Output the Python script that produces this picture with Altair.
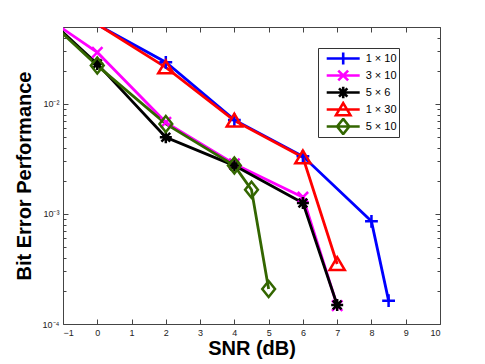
import altair as alt
import pandas as pd

# ---- data ----
series_names = ["1 × 10", "3 × 10", "5 × 6", "1 × 30", "5 × 10"]
colors = ["#0000ff", "#ff00ff", "#000000", "#ff0000", "#336600"]

snr_1x10 = [-1, 2, 4, 6, 8, 8.5]
ber_1x10 = [0.078, 0.0239, 0.00716, 0.00334, 0.000857, 0.000163]

snr_3x10 = [-2, 0, 2, 4, 6, 7]
ber_3x10 = [0.0785, 0.0294, 0.0068, 0.00285, 0.00142, 0.000147]

snr_5x6 = [-2, 0, 2, 4, 6, 7]
ber_5x6 = [0.0867, 0.0231, 0.00497, 0.00275, 0.00126, 0.000149]

snr_1x30 = [-1, 2, 4, 6, 7]
ber_1x30 = [0.083, 0.0215, 0.00705, 0.00327, 0.000351]

snr_5x10 = [-2, 0, 2, 4, 4.5, 5]
ber_5x10 = [0.084, 0.0223, 0.00658, 0.00275, 0.00166, 0.000208]

x_ticks = [-1, 0, 1, 2, 3, 4, 5, 6, 7, 8, 9, 10]
y_major = [1e-4, 1e-3, 1e-2]
y_minor = [m * 10.0 ** e for e in (-4, -3, -2) for m in range(2, 10) if m * 10.0 ** e <= 0.05]

rows = []
for name, xs, ys in [
    (series_names[0], snr_1x10, ber_1x10),
    (series_names[1], snr_3x10, ber_3x10),
    (series_names[2], snr_5x6, ber_5x6),
    (series_names[3], snr_1x30, ber_1x30),
    (series_names[4], snr_5x10, ber_5x10),
]:
    for x, y in zip(xs, ys):
        rows.append({"series": name, "snr": x, "ber": y})
df = pd.DataFrame(rows)


# ---- marker shapes (unit box) ----
def build_path(polys, scale=1.0, line_half=None):
    parts = []
    if line_half is not None:
        parts.append(f"M{-line_half:.3f},0L{line_half:.3f},0")
    for pts, closed in polys:
        s = "M" + "L".join(f"{px*scale:.3f},{py*scale:.3f}" for px, py in pts)
        if closed:
            s += "Z"
        parts.append(s)
    return "".join(parts)


plus = [([(-0.8, 0), (0.8, 0)], False), ([(0, -0.8), (0, 0.8)], False)]
xmark = [([(-0.65, -0.65), (0.65, 0.65)], False), ([(-0.65, 0.65), (0.65, -0.65)], False)]
star = [([(-0.75, 0), (0.75, 0)], False), ([(0, -0.75), (0, 0.75)], False),
        ([(-0.55, -0.55), (0.55, 0.55)], False), ([(-0.55, 0.55), (0.55, -0.55)], False)]
tri = [([(0, -0.85), (0.95, 0.75), (-0.95, 0.75)], True)]
diamond = [([(0, -1), (0.8, 0), (0, 1), (-0.8, 0)], True)]
markers = [plus, xmark, star, tri, diamond]

point_size = 256
legend_size = 256
legend_line_px = 33
chart_shapes = [build_path(m) for m in markers]
legend_shapes = [build_path(m, 0.95, line_half=legend_line_px / 16.0) for m in markers]

FONT = "Liberation Sans"
W, H = 377, 297

xscale = alt.Scale(domain=[-1, 10], nice=False, zero=False)
yscale = alt.Scale(type="log", domain=[1e-4, 0.05], nice=False)
cscale = alt.Scale(domain=series_names, range=colors)

base = alt.Chart(df)

lines = base.mark_line(strokeWidth=2.8, clip=True).encode(
    x=alt.X("snr:Q", scale=xscale, axis=alt.Axis(
        values=x_ticks, format="d", orient="bottom", offset=-5, tickSize=5,
        tickColor="#444", domain=False, grid=False, labelFont=FONT, labelFontSize=9,
        labelColor="#222", labelPadding=4, title="SNR (dB)", titleFont=FONT,
        titleFontSize=20, titleFontWeight="bold", titleColor="#000", titlePadding=1)),
    y=alt.Y("ber:Q", scale=yscale, axis=alt.Axis(
        values=y_major, orient="left", offset=-5, tickSize=5, tickColor="#444",
        domain=False, grid=False, labelFont=FONT, labelFontSize=9, labelColor="#222",
        labelPadding=4,
        labelExpr="datum.value < 0.0005 ? '10⁻⁴' : datum.value < 0.005 ? '10⁻³' : '10⁻²'",
        title="Bit Error Performance", titleFont=FONT, titleFontSize=20,
        titleFontWeight="bold", titleColor="#000", titlePadding=8)),
    color=alt.Color("series:N", scale=cscale, legend=None),
    detail="series:N",
)

points = base.mark_point(filled=False, strokeWidth=2.5, size=point_size, opacity=1, clip=True).encode(
    x=alt.X("snr:Q", scale=xscale, axis=alt.Axis(
        values=x_ticks, orient="top", offset=-5, tickSize=5, tickColor="#444",
        domain=False, grid=False, labels=False, title=None)),
    y=alt.Y("ber:Q", scale=yscale, axis=alt.Axis(
        values=y_major, orient="right", offset=-5, tickSize=5, tickColor="#444",
        domain=False, grid=False, labels=False, title=None)),
    color=alt.Color("series:N", scale=cscale, legend=None),
    shape=alt.Shape("series:N", scale=alt.Scale(domain=series_names, range=chart_shapes), legend=None),
)

minor_left = base.mark_point(opacity=0).transform_filter("datum.snr > 100").encode(
    x=alt.X("snr:Q", scale=xscale, axis=None),
    y=alt.Y("ber:Q", scale=yscale, axis=alt.Axis(
        values=y_minor, orient="left", offset=-3, tickSize=3, tickColor="#444",
        domain=False, grid=False, labels=False, title=None)),
)
minor_right = base.mark_point(opacity=0).transform_filter("datum.snr > 100").encode(
    x=alt.X("snr:Q", scale=xscale, axis=None),
    y=alt.Y("ber:Q", scale=yscale, axis=alt.Axis(
        values=y_minor, orient="right", offset=-3, tickSize=3, tickColor="#444",
        domain=False, grid=False, labels=False, title=None)),
)

legend_layer = base.mark_point(filled=False, strokeWidth=2.6, opacity=1).transform_filter(
    "datum.snr > 100").encode(
    x=alt.X("snr:Q", scale=xscale, axis=None),
    y=alt.Y("ber:Q", scale=yscale, axis=None),
    color=alt.Color("series:N", scale=cscale, legend=alt.Legend(
        title=None, orient="none", legendX=255, legendY=21, padding=2,
        strokeColor="#333", fillColor="white", symbolStrokeWidth=2.6,
        symbolSize=legend_size, labelFont=FONT, labelFontSize=11, labelColor="#000",
        labelOffset=13, rowPadding=0, symbolOffset=13.7, clipHeight=17)),
    shape=alt.Shape("series:N", scale=alt.Scale(domain=series_names, range=legend_shapes),
                    legend=alt.Legend(title=None, orient="none", legendX=255, legendY=21)),
)

chart = alt.layer(lines, points, minor_left, minor_right, legend_layer).resolve_axis(
    x="independent", y="independent"
).resolve_scale(shape="independent", color="independent").properties(
    width=W, height=H, autosize="none",
    padding={"left": 55, "top": 19, "right": 37, "bottom": 36},
).configure_view(stroke="#444", strokeWidth=1)

chart.save("out.html", embed_options={"renderer": "svg", "actions": False})
